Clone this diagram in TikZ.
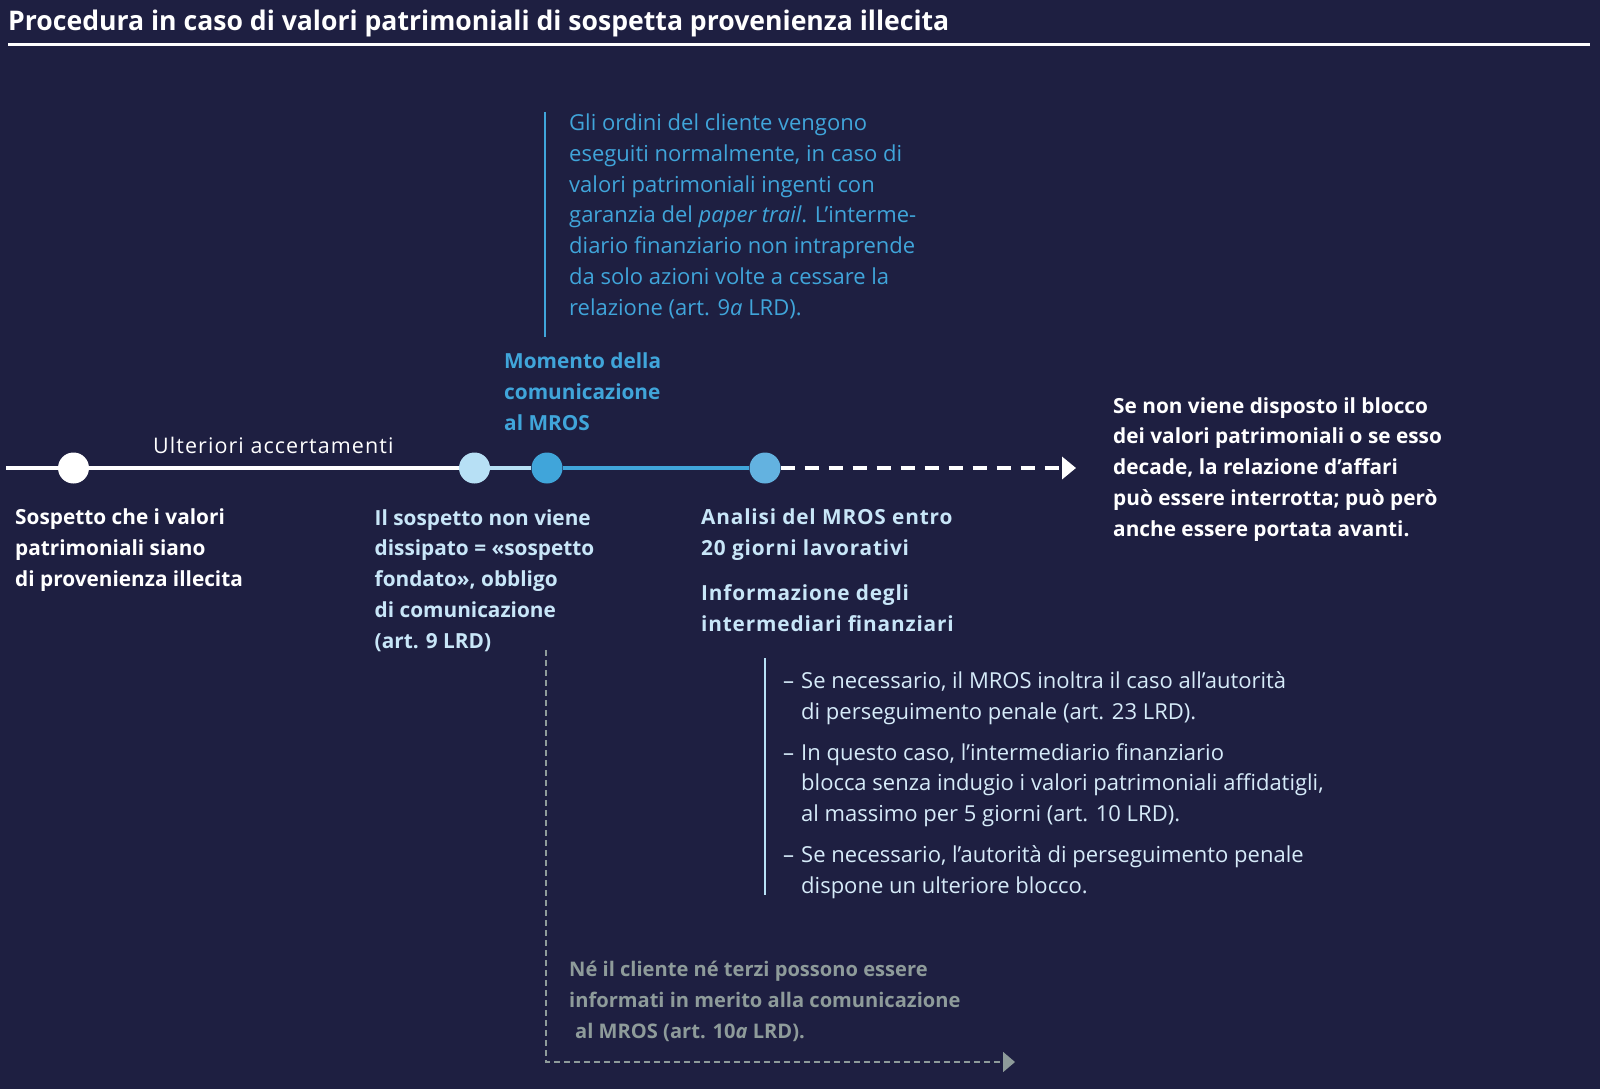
\documentclass[tikz,border=0pt]{standalone}
\usepackage{fontspec}
\setmainfont{Open Sans}
\newfontfamily\titlefont[FakeStretch=0.985]{Open Sans}
\usetikzlibrary{arrows.meta}
\definecolor{bg}{RGB}{30,31,65}
\definecolor{mblue}{RGB}{64,165,218}
\definecolor{lblue}{RGB}{183,224,245}
\definecolor{cblue}{RGB}{99,178,224}
\definecolor{ltext}{RGB}{200,230,248}
\definecolor{btext}{RGB}{214,235,249}
\definecolor{gtext}{RGB}{142,155,154}
\tikzset{
  reg/.style={anchor=base west, inner sep=0pt, align=left, font=\fontsize{22}{30.7}\selectfont},
  bld/.style={anchor=base west, inner sep=0pt, align=left, font=\fontsize{20.8}{30.7}\selectfont\bfseries},
  spaced/.style={anchor=base west, inner sep=0pt, align=left, font=\fontsize{20.8}{30.7}\selectfont\bfseries\addfontfeature{LetterSpace=4}},
  dot/.style={circle, minimum size=31pt, inner sep=0pt, draw=none},
  tl/.style={line width=4pt},
}
\begin{document}
\begin{tikzpicture}[x=1pt,y=-1pt]
\fill[bg] (0,0) rectangle (1600,1089);
\useasboundingbox (0,0) rectangle (1600,1089);
% title
\node[anchor=base west, inner sep=0pt, text=white, font=\titlefont\bfseries\fontsize{27}{30}\selectfont] (title) at (8,31) {Procedura in caso di valori patrimoniali di sospetta provenienza illecita};
\coordinate (r1) at (8,45);
\coordinate (r2) at (1590,45);
\draw[white, line width=3pt] (r1) -- (r2);
% timeline dots
\node[dot, fill=white] (c1) at (73.5,468) {};
\node[dot, fill=lblue] (c2) at (474.5,468) {};
\node[dot, fill=mblue] (c3) at (547,468) {};
\node[dot, fill=cblue] (c4) at (765,468) {};
\coordinate (start) at (6,468);
\coordinate (end) at (1076,468);
\draw[tl, white] (start) -- (c1);
\draw[tl, white] (c1) -- (c2);
\draw[tl, lblue] (c2) -- (c3);
\draw[tl, mblue] (c3) -- (c4);
\draw[line width=3.5pt, white, dash pattern=on 14pt off 10pt, -{Triangle[length=14pt,width=22pt]}] (c4) -- (end);
% timeline labels
\node[reg, text=white, font=\fontsize{21.5}{30.7}\selectfont\addfontfeature{LetterSpace=5}] (ult) at (153,453) {Ulteriori accertamenti};
\node[bld, text=mblue] (mom) at (504,430) {Momento della\\comunicazione\\al MROS};
% top text
\coordinate (v1) at (545,112);
\coordinate (v2) at (545,337);
\draw[mblue, line width=2pt] (v1) -- (v2);
\node[reg, text=mblue] (ord) at (569,315) {Gli ordini del cliente vengono\\eseguiti normalmente, in caso di\\valori patrimoniali ingenti con\\garanzia del \textit{paper trail}. L’interme-\\diario finanziario non intraprende\\da solo azioni volte a cessare la\\relazione (art. 9\textit{a} LRD).};
% below labels
\node[bld, text=white] (sosp) at (15,586) {Sospetto che i valori\\patrimoniali siano\\di provenienza illecita};
\node[bld, text=ltext] (nond) at (374.5,648) {Il sospetto non viene\\dissipato = «sospetto\\fondato», obbligo\\di comunicazione\\(art. 9 LRD)};
\node[spaced, text=ltext] (anal) at (701,555) {Analisi del MROS entro\\20 giorni lavorativi};
\node[spaced, text=ltext] (info) at (701,631) {Informazione degli\\intermediari finanziari};
\node[bld, text=white] (rel) at (1113,536) {Se non viene disposto il blocco\\dei valori patrimoniali o se esso\\decade, la relazione d’affari\\può essere interrotta; può però\\anche essere portata avanti.};
% bullets
\coordinate (b1) at (765,658);
\coordinate (b2) at (765,895);
\draw[lblue, line width=2pt] (b1) -- (b2);
\node[reg, text=btext] (bul) at (783,893) {\makebox[18pt][l]{–}Se necessario, il MROS inoltra il caso all’autorità\\\hspace*{18pt}di perseguimento penale (art. 23 LRD).\\[10pt]\makebox[18pt][l]{–}In questo caso, l’intermediario finanziario\\\hspace*{18pt}blocca senza indugio i valori patrimoniali affidatigli,\\\hspace*{18pt}al massimo per 5 giorni (art. 10 LRD).\\[10pt]\makebox[18pt][l]{–}Se necessario, l’autorità di perseguimento penale\\\hspace*{18pt}dispone un ulteriore blocco.};
% gray
\coordinate (g1) at (546,650);
\coordinate (g2) at (546,1062);
\coordinate (g3) at (1015,1062);
\draw[gtext, line width=1.6pt, dash pattern=on 6pt off 4pt, -{Triangle[length=12pt,width=20pt]}] (g1) -- (g2) -- (g3);
\node[bld, text=gtext, font=\fontsize{20.1}{30.7}\selectfont\bfseries] (ne) at (569,1038) {Né il cliente né terzi possono essere\\informati in merito alla comunicazione\\\hspace*{6pt}al MROS (art. 10\textit{a} LRD).};
\end{tikzpicture}
\end{document}
